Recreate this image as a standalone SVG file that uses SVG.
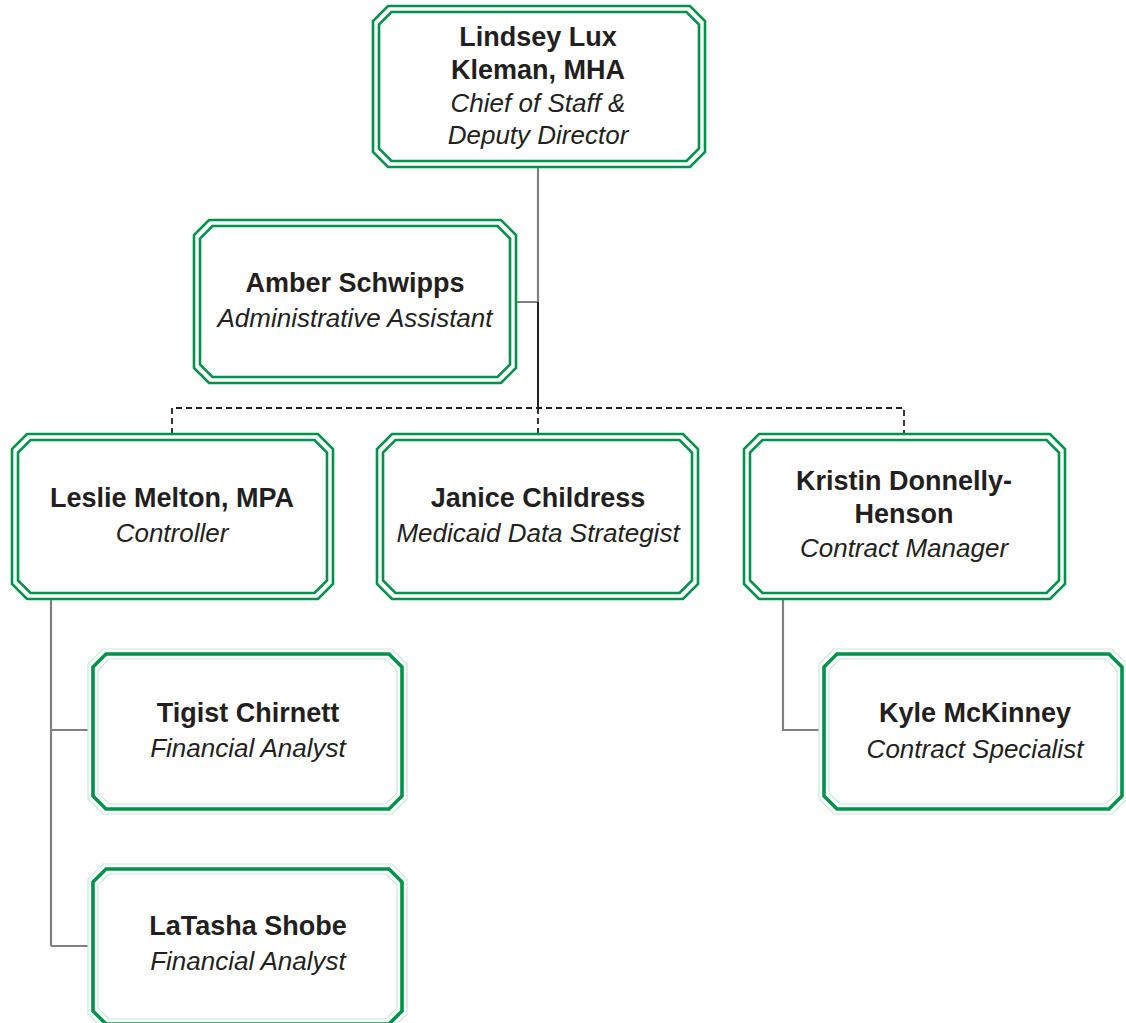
<svg xmlns="http://www.w3.org/2000/svg" width="1126" height="1023" viewBox="0 0 1126 1023">
<style>
.bg{fill:#ffffff}
.dbl{fill:none;stroke:#00924b;stroke-width:2.6}
.fill{fill:#ffffff;stroke:none}
.thick{fill:none;stroke:#00924b;stroke-width:3.6}
.faint{fill:none;stroke:#c6e8d8;stroke-width:1.2}
.gray{fill:none;stroke:#808083;stroke-width:2.2}
.dark{fill:none;stroke:#231f20;stroke-width:2}
.dash{fill:none;stroke:#231f20;stroke-width:1.8;stroke-dasharray:6 4}
text{font-family:"Liberation Sans",Arial,sans-serif;font-size:26px;fill:#231f20;text-anchor:middle}
.n{font-weight:bold;font-size:27px}
.t{font-style:italic}
</style>
<rect class="bg" x="0" y="0" width="1126" height="1023"/>
<g id="connectors">
<path class="gray" d="M538,167 V302 M516,302 H538"/>
<path class="dark" d="M538,302 V408"/>
<path class="dash" d="M172,434 V408 H904 V434 M538,408 V434"/>
<path class="gray" d="M51,599 V946 M51,730 H93 M51,946 H93"/>
<path class="gray" d="M783,599 V730 H824"/>
</g>
<g id="node-lindsey">
<polygon class="fill" points="388,6 690,6 705,21 705,152 690,167 388,167 373,152 373,21"/>
<polygon class="dbl" points="388,6 690,6 705,21 705,152 690,167 388,167 373,152 373,21"/>
<polygon class="dbl" points="391.5,12 686.5,12 699,24.5 699,148.5 686.5,161 391.5,161 379,148.5 379,24.5"/>
<text class="n" x="538" y="46">Lindsey Lux</text>
<text class="n" x="538" y="79">Kleman, MHA</text>
<text class="t" x="538" y="112">Chief of Staff &amp;</text>
<text class="t" x="538" y="144">Deputy Director</text>
</g>
<g id="node-amber">
<polygon class="fill" points="209,220 501,220 516,235 516,368 501,383 209,383 194,368 194,235"/>
<polygon class="dbl" points="209,220 501,220 516,235 516,368 501,383 209,383 194,368 194,235"/>
<polygon class="dbl" points="212.5,226 497.5,226 510,238.5 510,364.5 497.5,377 212.5,377 200,364.5 200,238.5"/>
<text class="n" x="355" y="292">Amber Schwipps</text>
<text class="t" x="355" y="327">Administrative Assistant</text>
</g>
<g id="node-leslie">
<polygon class="fill" points="27,434 318,434 333,449 333,584 318,599 27,599 12,584 12,449"/>
<polygon class="dbl" points="27,434 318,434 333,449 333,584 318,599 27,599 12,584 12,449"/>
<polygon class="dbl" points="30.5,440 314.5,440 327,452.5 327,580.5 314.5,593 30.5,593 18,580.5 18,452.5"/>
<text class="n" x="172" y="507">Leslie Melton, MPA</text>
<text class="t" x="172" y="542">Controller</text>
</g>
<g id="node-janice">
<polygon class="fill" points="392,434 683,434 698,449 698,584 683,599 392,599 377,584 377,449"/>
<polygon class="dbl" points="392,434 683,434 698,449 698,584 683,599 392,599 377,584 377,449"/>
<polygon class="dbl" points="395.5,440 679.5,440 692,452.5 692,580.5 679.5,593 395.5,593 383,580.5 383,452.5"/>
<text class="n" x="538" y="507">Janice Childress</text>
<text class="t" x="538" y="542">Medicaid Data Strategist</text>
</g>
<g id="node-kristin">
<polygon class="fill" points="759,434 1050,434 1065,449 1065,584 1050,599 759,599 744,584 744,449"/>
<polygon class="dbl" points="759,434 1050,434 1065,449 1065,584 1050,599 759,599 744,584 744,449"/>
<polygon class="dbl" points="762.5,440 1046.5,440 1059,452.5 1059,580.5 1046.5,593 762.5,593 750,580.5 750,452.5"/>
<text class="n" x="904" y="490">Kristin Donnelly-</text>
<text class="n" x="904" y="523">Henson</text>
<text class="t" x="904" y="557">Contract Manager</text>
</g>
<g id="node-tigist">
<polygon class="fill" points="103,649 392,649 407,664 407,799 392,814 103,814 88,799 88,664"/>
<polygon class="faint" points="103,649 392,649 407,664 407,799 392,814 103,814 88,799 88,664"/>
<polygon class="faint" points="109,659 386,659 397,670 397,793 386,804 109,804 98,793 98,670"/>
<polygon class="thick" points="106,654 389,654 402,667 402,796 389,809 106,809 93,796 93,667"/>
<text class="n" x="248" y="722">Tigist Chirnett</text>
<text class="t" x="248" y="757">Financial Analyst</text>
</g>
<g id="node-latasha">
<polygon class="fill" points="103,864 392,864 407,879 407,1014 392,1029 103,1029 88,1014 88,879"/>
<polygon class="faint" points="103,864 392,864 407,879 407,1014 392,1029 103,1029 88,1014 88,879"/>
<polygon class="faint" points="109,874 386,874 397,885 397,1008 386,1019 109,1019 98,1008 98,885"/>
<polygon class="thick" points="106,869 389,869 402,882 402,1011 389,1024 106,1024 93,1011 93,882"/>
<text class="n" x="248" y="935">LaTasha Shobe</text>
<text class="t" x="248" y="970">Financial Analyst</text>
</g>
<g id="node-kyle">
<polygon class="fill" points="834,649 1112,649 1127,664 1127,799 1112,814 834,814 819,799 819,664"/>
<polygon class="faint" points="834,649 1112,649 1127,664 1127,799 1112,814 834,814 819,799 819,664"/>
<polygon class="faint" points="840,659 1106,659 1117,670 1117,793 1106,804 840,804 829,793 829,670"/>
<polygon class="thick" points="837,654 1109,654 1122,667 1122,796 1109,809 837,809 824,796 824,667"/>
<text class="n" x="975" y="722">Kyle McKinney</text>
<text class="t" x="975" y="758">Contract Specialist</text>
</g>
</svg>
